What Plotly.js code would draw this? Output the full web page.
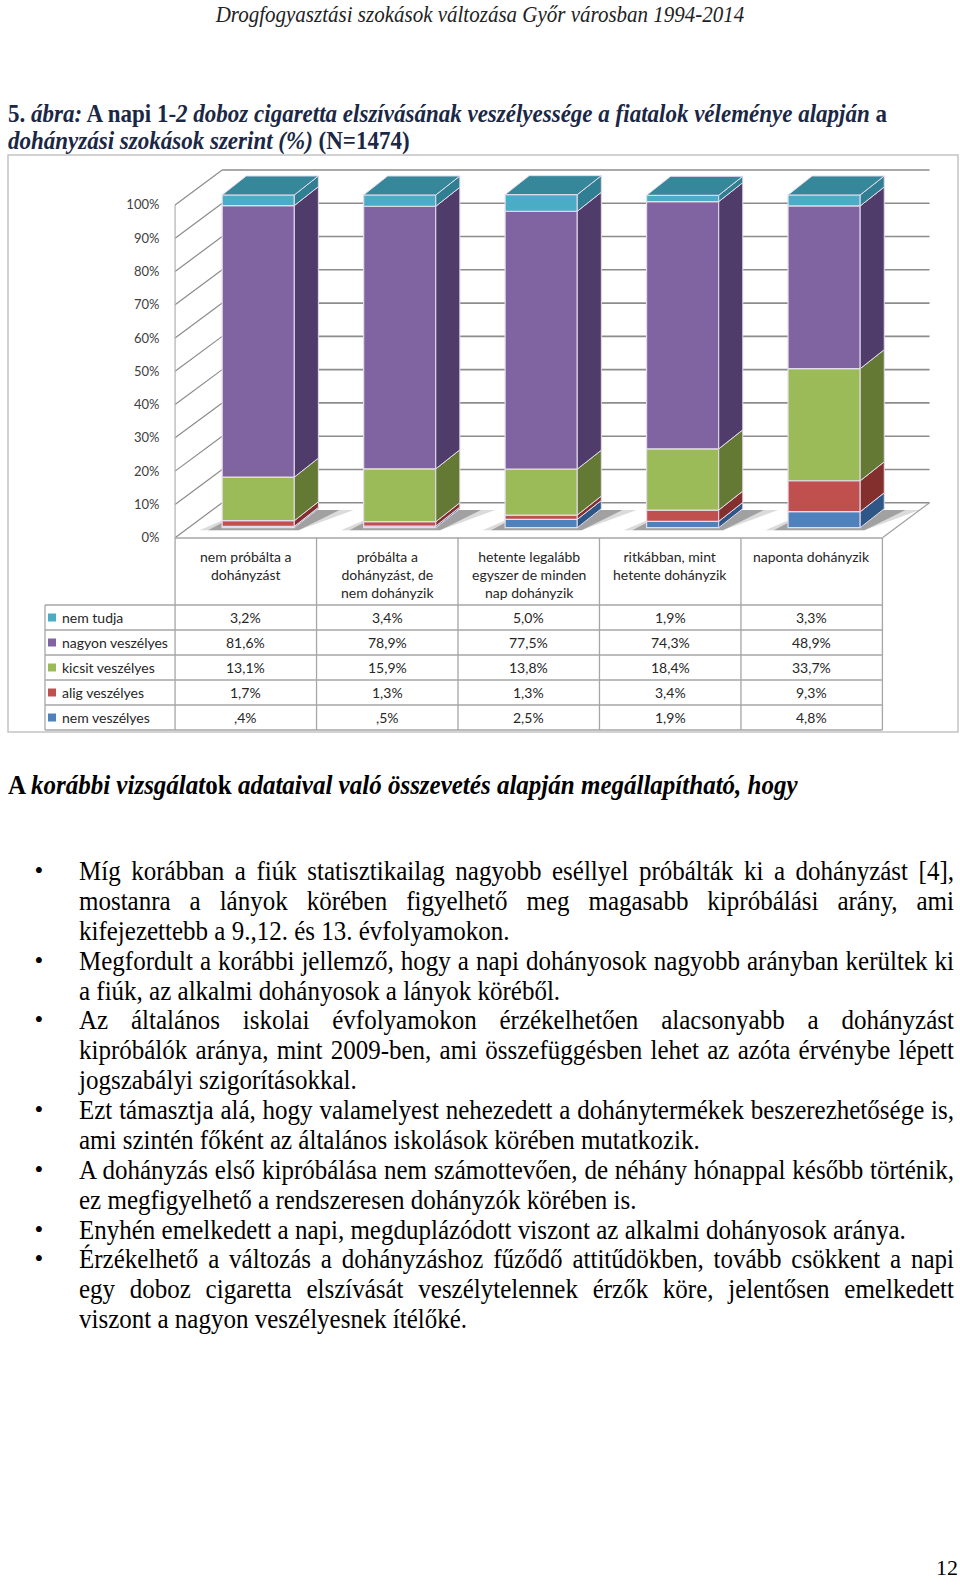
<!DOCTYPE html>
<html>
<head>
<meta charset="utf-8">
<script src="https://cdn.plot.ly/plotly-3.0.1.min.js"></script>
<style>
  html, body { margin:0; padding:0; background:#fff; }
  #page { position:relative; width:960px; height:1588px; overflow:hidden; background:#fff; }
  .serif { font-family:'Liberation Serif','Times New Roman',serif; color:#000; }
  .abs { position:absolute; white-space:nowrap; }
  .jl { text-align:justify; text-align-last:justify; }
  .tall { transform:scaleY(1.12); transform-origin:0 50%; }
</style>
</head>
<body>
<div id="page">
  <div id="hdr" class="abs serif" style="left:0;top:2px;width:960px;text-align:center;font-style:italic;font-size:21px;line-height:22px;color:#222;transform:scaleY(1.1);transform-origin:50% 0;">Drogfogyasztási szokások változása Győr városban 1994-2014</div>
  <div class="abs serif tall" style="left:8px;top:101px;font-size:23px;line-height:26.5px;font-weight:bold;color:#1a2745;">5. <i>ábra:</i> A napi 1-<i>2 doboz cigaretta elszívásának veszélyessége a fiatalok véleménye alapján</i> a</div>
  <div class="abs serif tall" style="left:8px;top:127.5px;font-size:23px;line-height:26.5px;font-weight:bold;color:#1a2745;"><i>dohányzási szokások szerint (%)</i> (N=1474)</div>
  <div id="chart" style="position:absolute;left:0;top:150px;width:960px;height:600px;"></div>
  <div class="abs serif tall" style="left:8px;top:771px;font-size:25px;line-height:28px;font-weight:bold;">A <i>korábbi vizsgálat</i>ok <i>adataival való összevetés alapján megállapítható, hogy</i></div>
  <div id="body"></div>
  <div class="abs serif" style="left:900px;width:58px;top:1556px;text-align:right;font-size:22px;line-height:24px;">12</div>
</div>
<script>
// ---------------- data ----------------
const categories = [
  'nem próbálta a<br>dohányzást',
  'próbálta a<br>dohányzást, de<br>nem dohányzik',
  'hetente legalább<br>egyszer de minden<br>nap dohányzik',
  'ritkábban, mint<br>hetente dohányzik',
  'naponta dohányzik'
];
const nemTudja        = [3.2, 3.4, 5.0, 1.9, 3.3];
const nagyonVeszelyes = [81.6, 78.9, 77.5, 74.3, 48.9];
const kicsitVeszelyes = [13.1, 15.9, 13.8, 18.4, 33.7];
const aligVeszelyes   = [1.7, 1.3, 1.3, 3.4, 9.3];
const nemVeszelyes    = [0.4, 0.5, 2.5, 1.9, 4.8];
const seriesNames = ['nem tudja', 'nagyon veszélyes', 'kicsit veszélyes', 'alig veszélyes', 'nem veszélyes'];
const yTickVals = [0, 10, 20, 30, 40, 50, 60, 70, 80, 90, 100];
const yTickText = ['0%', '10%', '20%', '30%', '40%', '50%', '60%', '70%', '80%', '90%', '100%'];

// ---------------- styles ----------------
const series = [ // top -> bottom (table order)
  {name: seriesNames[0], v: nemTudja,        front: '#4BACC6', side: '#2F7E92', top: '#37879B'},
  {name: seriesNames[1], v: nagyonVeszelyes, front: '#8064A2', side: '#4F3C6B', top: '#6A528A'},
  {name: seriesNames[2], v: kicsitVeszelyes, front: '#9BBB59', side: '#647A34', top: '#7E9A45'},
  {name: seriesNames[3], v: aligVeszelyes,   front: '#C0504D', side: '#832F2D', top: '#A04240'},
  {name: seriesNames[4], v: nemVeszelyes,    front: '#4F81BD', side: '#2E5788', top: '#3E6CA4'}
];
const stackOrder = series.slice().reverse(); // bottom -> top

// geometry (data units) for the oblique 3-D look
const XR = [-0.55, 4.9], YR = [-1, 112];
const DX = 0.333, DY = 10.5;     // wall depth
const FX = 0.088, FY = 3.0;      // bar front offset into the depth
const HW = 0.255;                // half bar width
const BX = 0.17, BY = 5.7;       // bar depth
const EDGE = '#E4DCEA';
const GRID = '#8c8c8c';

// figure placement on the page
const FIG_TOP = 150, M = {l:168, r:21, t:15, b:209};
const PW = 960 - M.l - M.r, PH = 600 - M.t - M.b;
const pX = x => (x - M.l) / PW;                       // page x -> paper
const pY = y => (FIG_TOP + M.t + PH - y) / PH;        // page y -> paper
const dataToPageX = x => M.l + (x - XR[0]) / (XR[1] - XR[0]) * PW;

const traces = [];
const shapes = [];
const annotations = [];

// back wall gridlines and left side wall
yTickVals.forEach(v => {
  shapes.push({type:'line', xref:'x', yref:'y', layer:'below', x0:XR[0] + 0.05 + DX, x1:4.5 + DX, y0:v + DY, y1:v + DY, line:{color:GRID, width:1.6}});
  shapes.push({type:'line', xref:'x', yref:'y', layer:'below', x0:-0.5, x1:-0.5 + DX, y0:v, y1:v + DY, line:{color:GRID, width:1.2}});
});
shapes.push({type:'line', xref:'x', yref:'y', layer:'below', x0:-0.5, x1:-0.5, y0:0, y1:100, line:{color:'#b0b0b0', width:1.2}});
shapes.push({type:'line', xref:'x', yref:'y', layer:'below', x0:4.5, x1:4.5 + DX, y0:0, y1:DY, line:{color:'#a0a0a0', width:1.2}});

// soft floor shadows below the bars
categories.forEach((c, i) => {
  const xl = i + FX - HW, xr = i + FX + HW;
  [[0.16, 0.2, 'rgba(110,110,110,0.25)'], [0.1, 0.1, 'rgba(90,90,90,0.45)']].forEach(([ext, ext2, col]) => {
    shapes.push({type:'path', xref:'x', yref:'y', layer:'below', line:{width:0}, fillcolor:col,
      path:`M ${xl - ext} ${FY - 0.8} L ${xr + 0.03} ${FY - 0.8} L ${xr + BX + ext2 + 0.05} ${FY + BY - 0.4} L ${xl + BX} ${FY + BY - 0.4} Z`});
  });
});

// stacked 3-D bars: front faces (bar traces) + side faces + top cap
const cum = categories.map(() => FY);
stackOrder.forEach((s, si) => {
  const base = cum.slice();
  traces.push({type:'bar', name:s.name, x:categories.map((c, i) => i), y:s.v, base:base,
    width:2 * HW, offset:FX - HW, marker:{color:s.front, line:{color:EDGE, width:1.2}},
    showlegend:false, hoverinfo:'skip', textposition:'none'});
  const sx = [], sy = [];
  categories.forEach((c, i) => {
    const xr = i + FX + HW, a = base[i], b = base[i] + s.v[i];
    sx.push(xr, xr + BX, xr + BX, xr, xr, null);
    sy.push(a, a + BY, b + BY, b, a, null);
  });
  traces.push({type:'scatter', mode:'lines', x:sx, y:sy, fill:'toself', fillcolor:s.side,
    line:{color:EDGE, width:1}, showlegend:false, hoverinfo:'skip'});
  categories.forEach((c, i) => { cum[i] += s.v[i]; });
  if (si === stackOrder.length - 1) {
    const tx = [], ty = [];
    categories.forEach((c, i) => {
      const xl = i + FX - HW, xr = i + FX + HW, t = cum[i];
      tx.push(xl, xr, xr + BX, xl + BX, xl, null);
      ty.push(t, t, t + BY, t + BY, t, null);
    });
    traces.push({type:'scatter', mode:'lines', x:tx, y:ty, fill:'toself', fillcolor:s.top,
      line:{color:EDGE, width:1}, showlegend:false, hoverinfo:'skip'});
  }
});

// ---------------- data table ----------------
const TBL = {top:538, head:605, row:25, left:45};
const TGRID = '#a6a6a6';
const colX = k => dataToPageX(k - 0.5);
const tblBottom = TBL.head + TBL.row * series.length;
for (let k = 0; k <= categories.length; k++) {
  shapes.push({type:'line', xref:'paper', yref:'paper', x0:pX(colX(k)), x1:pX(colX(k)), y0:pY(TBL.top), y1:pY(tblBottom), line:{color:TGRID, width:1.3}});
}
shapes.push({type:'line', xref:'paper', yref:'paper', x0:pX(TBL.left), x1:pX(TBL.left), y0:pY(TBL.head), y1:pY(tblBottom), line:{color:TGRID, width:1.3}});
shapes.push({type:'line', xref:'paper', yref:'paper', x0:pX(colX(0)), x1:pX(colX(categories.length)), y0:pY(TBL.top), y1:pY(TBL.top), line:{color:TGRID, width:1.3}});
for (let r = 0; r <= series.length; r++) {
  const y = TBL.head + r * TBL.row;
  shapes.push({type:'line', xref:'paper', yref:'paper', x0:pX(TBL.left), x1:pX(colX(categories.length)), y0:pY(y), y1:pY(y), line:{color:TGRID, width:1.3}});
}
// chart frame
shapes.push({type:'rect', xref:'paper', yref:'paper', x0:pX(8), x1:pX(958), y0:pY(155), y1:pY(732), line:{color:'#c4c4c4', width:1.5}});

const TF = {family:'Lato, Carlito, sans-serif', size:14, color:'#262626'};
const fmt = v => v < 1 ? ',' + Math.round(v * 10) + '%' : v.toFixed(1).replace('.', ',') + '%';
categories.forEach((c, i) => {
  annotations.push({xref:'x', yref:'paper', x:i, y:pY(547), xanchor:'center', yanchor:'top', text:c, showarrow:false, align:'center', font:TF, borderpad:0});
});
series.forEach((s, r) => {
  const yc = TBL.head + r * TBL.row + TBL.row / 2;
  shapes.push({type:'rect', xref:'paper', yref:'paper', x0:pX(48), x1:pX(56), y0:pY(yc - 4), y1:pY(yc + 4), fillcolor:s.front, line:{width:0}});
  annotations.push({xref:'paper', yref:'paper', x:pX(60), y:pY(yc), xanchor:'left', yanchor:'middle', text:s.name, showarrow:false, font:TF});
  s.v.forEach((v, i) => {
    annotations.push({xref:'x', yref:'paper', x:i, y:pY(yc), xanchor:'center', yanchor:'middle', text:fmt(v), showarrow:false, font:TF});
  });
});

const layout = {
  width:960, height:600, margin:M, paper_bgcolor:'rgba(0,0,0,0)', plot_bgcolor:'rgba(0,0,0,0)',
  barmode:'overlay', hovermode:false, showlegend:false,
  xaxis:{range:XR, showgrid:false, zeroline:false, showline:false, showticklabels:false, ticks:'', fixedrange:true},
  yaxis:{range:YR, tickvals:yTickVals, ticktext:yTickText, showgrid:false, zeroline:false, showline:false,
         ticks:'outside', ticklen:5, tickcolor:'rgba(0,0,0,0)', fixedrange:true,
         tickfont:{family:'Lato, Carlito, sans-serif', size:13, color:'#404040'}},
  shapes:shapes, annotations:annotations
};
Plotly.newPlot('chart', traces, layout, {staticPlot:true, displayModeBar:false});

// ---------------- body text ----------------
const paragraphs = [
  ['Míg korábban a fiúk statisztikailag nagyobb eséllyel próbálták ki a dohányzást [4],',
   'mostanra a lányok körében figyelhető meg magasabb kipróbálási arány, ami',
   'kifejezettebb a 9.,12. és 13. évfolyamokon.'],
  ['Megfordult a korábbi jellemző, hogy a napi dohányosok nagyobb arányban kerültek ki',
   'a fiúk, az alkalmi dohányosok a lányok köréből.'],
  ['Az általános iskolai évfolyamokon érzékelhetően alacsonyabb a dohányzást',
   'kipróbálók aránya, mint 2009-ben, ami összefüggésben lehet az azóta érvénybe lépett',
   'jogszabályi szigorításokkal.'],
  ['Ezt támasztja alá, hogy valamelyest nehezedett a dohánytermékek beszerezhetősége is,',
   'ami szintén főként az általános iskolások körében mutatkozik.'],
  ['A dohányzás első kipróbálása nem számottevően, de néhány hónappal később történik,',
   'ez megfigyelhető a rendszeresen dohányzók körében is.'],
  ['Enyhén emelkedett a napi, megduplázódott viszont az alkalmi dohányosok aránya.'],
  ['Érzékelhető a változás a dohányzáshoz fűződő attitűdökben, tovább csökkent a napi',
   'egy doboz cigaretta elszívását veszélytelennek érzők köre, jelentősen emelkedett',
   'viszont a nagyon veszélyesnek ítélőké.']
];
const bodyEl = document.getElementById('body');
const LH = 29.87, FIRST = 871;
let li = 0;
paragraphs.forEach(p => {
  p.forEach((line, k) => {
    const top = FIRST + li * LH - LH / 2;
    if (k === 0) {
      const b = document.createElement('div');
      b.className = 'abs serif';
      b.style.cssText = `left:30px;width:18px;text-align:center;top:${top}px;font-size:25px;line-height:${LH}px;`;
      b.textContent = '•';
      bodyEl.appendChild(b);
    }
    const d = document.createElement('div');
    d.className = 'abs serif tall' + (k < p.length - 1 ? ' jl' : '');
    d.style.cssText = `left:79px;width:875px;top:${top}px;font-size:25px;line-height:${LH}px;`;
    d.textContent = line;
    bodyEl.appendChild(d);
    li++;
  });
});
</script>
</body>
</html>
